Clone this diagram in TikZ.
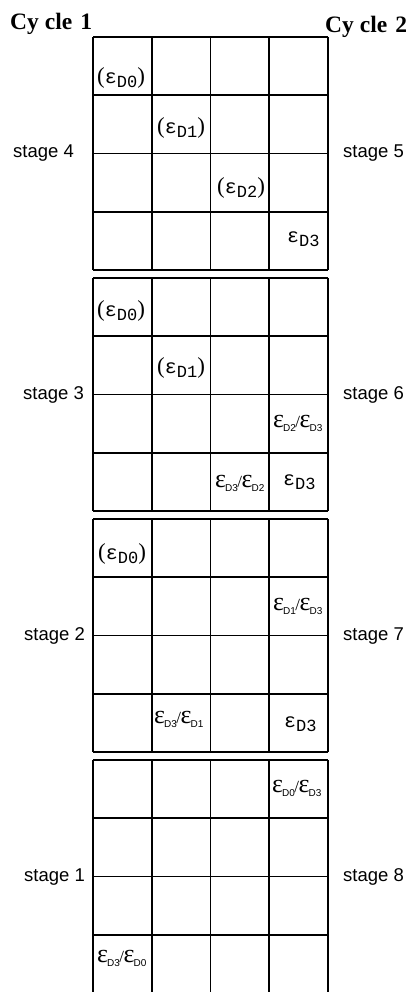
\documentclass[tikz,border=0pt]{standalone}
\usepackage{fontspec}
\setmainfont{Liberation Serif}
\newfontfamily\labelsans{Liberation Sans}
\newfontfamily\labelmono{Liberation Mono}

% epsilon with a subscript, in brackets / plain / as a ratio
\newcommand\cellpar[1]{{\fontsize{23}{23}\selectfont(}{\labelmono\fontsize{20}{20}\selectfont ε\raisebox{-4pt}{\fontsize{17}{17}\selectfont #1}}{\fontsize{23}{23}\selectfont)}}
\newcommand\cellplain[1]{{\labelmono\fontsize{20}{20}\selectfont ε\raisebox{-4pt}{\fontsize{17}{17}\selectfont #1}}}
\newcommand\cellratio[2]{{\fontsize{26}{26}\selectfont ε\kern-1pt\raisebox{-4pt}{\labelsans\fontsize{10}{10}\selectfont #1}\kern-0.5pt{\fontsize{17}{17}\selectfont/}\kern-0.5ptε\kern-1pt\raisebox{-4pt}{\labelsans\fontsize{10}{10}\selectfont #2}}}

\begin{document}
\begin{tikzpicture}[x=1pt,y=-1pt,
  gridline/.style={line width=1.8pt,black},
  cyclelabel/.style={anchor=base west,inner sep=0pt,font=\fontsize{23.5}{24}\selectfont\bfseries},
  stagelabel/.style={anchor=base west,inner sep=0pt,font=\labelsans\fontsize{18.5}{19}\selectfont},
  celltext/.style={anchor=base west,inner sep=0pt}]
\useasboundingbox (0,0) rectangle (409,992);

% four 4x4 blocks, one per pair of stages
\foreach \k in {0,1,2,3} {
  \pgfmathsetmacro\top{37+241*\k}
  \foreach \i in {0,...,4} {
    \draw[gridline] ({93+58.75*\i},\top) -- ({93+58.75*\i},{\top+233});
    \draw[gridline] (93,{\top+58.25*\i}) -- (328,{\top+58.25*\i});
  }
}

% headings
\node[cyclelabel] (cyc1) at (10,30) {Cy\kern6pt cle\kern8pt 1};
\node[cyclelabel] (cyc2) at (325,33) {Cy\kern6pt cle\kern8pt 2};

% stage labels
\node[stagelabel] (st4) at (13,158) {stage 4};
\node[stagelabel] (st3) at (23,399) {stage 3};
\node[stagelabel] (st2) at (24,640) {stage 2};
\node[stagelabel] (st1) at (24,881) {stage 1};
\node[stagelabel] (st5) at (343,158) {stage 5};
\node[stagelabel] (st6) at (343,399) {stage 6};
\node[stagelabel] (st7) at (343,640) {stage 7};
\node[stagelabel] (st8) at (343,881) {stage 8};

% block 1
\node[celltext] (a1) at (97,84) {\cellpar{D0}};
\node[celltext] (a2) at (157,134) {\cellpar{D1}};
\node[celltext] (a3) at (217,194) {\cellpar{D2}};
\node[celltext] (a4) at (287,242) {\cellplain{D3}};
% block 2
\node[celltext] (b1) at (97,316) {\cellpar{D0}};
\node[celltext] (b2) at (157,373) {\cellpar{D1}};
\node[celltext] (b3) at (273,427) {\cellratio{D2}{D3}};
\node[celltext] (b4) at (215,487) {\cellratio{D3}{D2}};
\node[celltext] (b5) at (283,485) {\cellplain{D3}};
% block 3
\node[celltext] (c1) at (98,559) {\cellpar{D0}};
\node[celltext] (c2) at (273,610) {\cellratio{D1}{D3}};
\node[celltext] (c3) at (154,723) {\cellratio{D3}{D1}};
\node[celltext] (c4) at (284,727) {\cellplain{D3}};
% block 4
\node[celltext] (d1) at (272,792) {\cellratio{D0}{D3}};
\node[celltext] (d2) at (97,962) {\cellratio{D3}{D0}};
\end{tikzpicture}
\end{document}
